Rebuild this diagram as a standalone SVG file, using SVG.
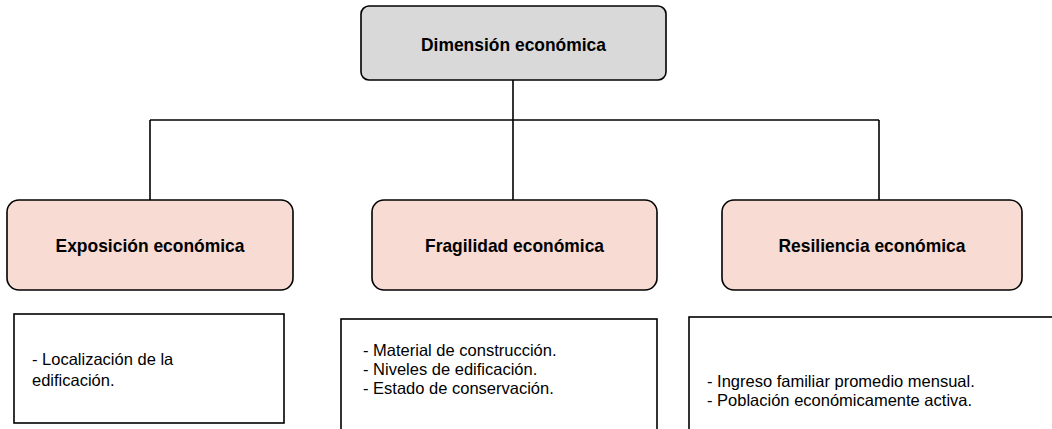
<svg xmlns="http://www.w3.org/2000/svg" width="1052" height="429" viewBox="0 0 1052 429">
<style>
.top{fill:#d9d9d9;stroke:#000;stroke-width:1.6}
.pink{fill:#f8dbd3;stroke:#000;stroke-width:1.6}
.box{fill:#fff;stroke:#000;stroke-width:1.6}
.conn line{stroke:#000;stroke-width:1.6}
.b{font-family:"Liberation Sans",Arial,sans-serif;font-weight:bold;font-size:19px;fill:#000;text-anchor:middle}
.r{font-family:"Liberation Sans",Arial,sans-serif;font-size:16.5px;fill:#000}
</style>
<rect width="1052" height="429" fill="#fff"/>
<g class="conn">
<line x1="513" y1="80" x2="513" y2="200"/>
<line x1="150" y1="120" x2="879" y2="120"/>
<line x1="150" y1="120" x2="150" y2="200"/>
<line x1="879" y1="120" x2="879" y2="200"/>
</g>
<g id="dimension">
<rect class="top" x="361" y="6" width="305" height="74" rx="8"/>
<text class="b" x="513.5" y="51" textLength="185" lengthAdjust="spacingAndGlyphs">Dimensión económica</text>
</g>
<g id="exposicion">
<rect class="pink" x="7" y="200" width="286" height="90" rx="12"/>
<text class="b" x="150" y="252" textLength="189" lengthAdjust="spacingAndGlyphs">Exposición económica</text>
</g>
<g id="fragilidad">
<rect class="pink" x="372" y="200" width="285" height="90" rx="12"/>
<text class="b" x="514.5" y="252" textLength="179" lengthAdjust="spacingAndGlyphs">Fragilidad económica</text>
</g>
<g id="resiliencia">
<rect class="pink" x="722" y="200" width="300" height="90" rx="12"/>
<text class="b" x="872" y="252" textLength="187" lengthAdjust="spacingAndGlyphs">Resiliencia económica</text>
</g>
<g id="exposicion-items">
<rect class="box" x="14" y="314" width="270" height="109"/>
<text class="r" x="32" y="365">- Localización de la</text>
<text class="r" x="32" y="386">edificación.</text>
</g>
<g id="fragilidad-items">
<rect class="box" x="341" y="319" width="316" height="130"/>
<text class="r" x="363" y="356">- Material de construcción.</text>
<text class="r" x="363" y="375">- Niveles de edificación.</text>
<text class="r" x="363" y="394">- Estado de conservación.</text>
</g>
<g id="resiliencia-items">
<rect class="box" x="689" y="317" width="400" height="130"/>
<text class="r" x="707" y="387">- Ingreso familiar promedio mensual.</text>
<text class="r" x="707" y="406">- Población económicamente activa.</text>
</g>
</svg>
